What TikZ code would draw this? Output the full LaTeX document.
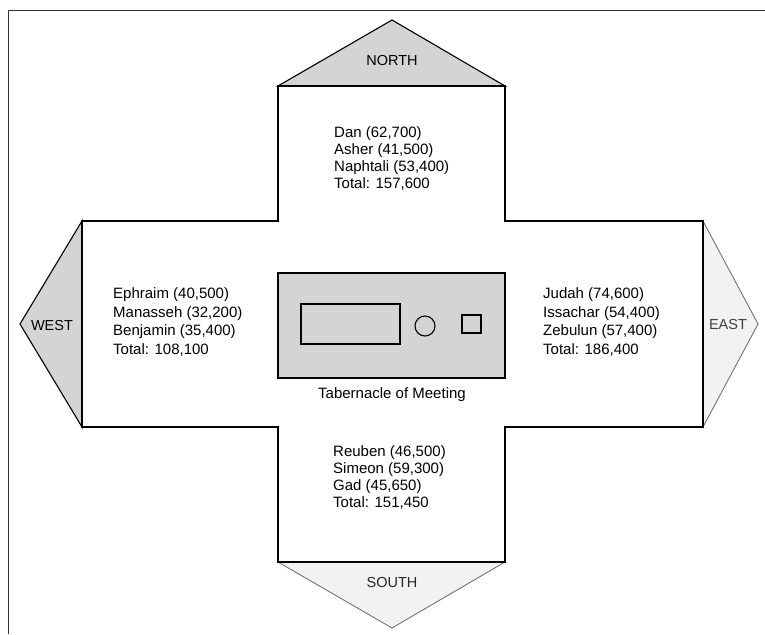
\documentclass[tikz,border=0pt]{standalone}
\usepackage{fontspec}
\setmainfont{Liberation Sans}
\begin{document}
\begin{tikzpicture}[x=1pt,y=-1pt,
  outline/.style={draw=black,line width=1.1pt,line join=miter},
  dirfill/.style={outline,fill=black!17},
  fadefill/.style={draw=black!55,line width=0.9pt,fill=black!5},
  dirlabel/.style={font=\fontsize{14.5}{16}\selectfont,inner sep=0pt},
  tribe/.style={font=\fontsize{15}{17}\selectfont,align=left,anchor=west,inner sep=0pt},
  tribewide/.style={tribe,font=\fontsize{15}{18.5}\selectfont}]
\useasboundingbox (0,0) rectangle (765,634);
% frame
\draw[black!80,line width=0.9pt] (8,634) -- (8,10) -- (765,10);
% direction triangles
\draw[dirfill] (278,86) -- (392,20) -- (505,86) -- cycle;
\draw[dirfill] (82,221) -- (20,324) -- (82,427) -- cycle;
\draw[fadefill] (703,221) -- (758,324) -- (703,427);
\draw[fadefill] (278,562) -- (392,628) -- (505,562);
% cross
\draw[outline,fill=white] (278,86) -- (505,86) -- (505,221) -- (703,221) -- (703,427) -- (505,427)
  -- (505,562) -- (278,562) -- (278,427) -- (82,427) -- (82,221) -- (278,221) -- cycle;
% tabernacle
\draw[outline,fill=black!17] (278,273) rectangle (505,378);
\draw[outline] (301,304) rectangle (400,344);
\draw[outline] (425,326) circle (10);
\draw[outline] (462,315) rectangle (481,333);
% labels
\node[dirlabel] (north) at (392,61) {NORTH};
\node[dirlabel] (west) at (52,326) {WEST};
\node[dirlabel,text=black!75] (east) at (728,325) {EAST};
\node[dirlabel,text=black!85] (south) at (392,583) {SOUTH};
\node[tribe] (n) at (334,159) {Dan (62,700)\\Asher (41,500)\\Naphtali (53,400)\\Total: 157,600};
\node[tribewide] (w) at (113,322) {Ephraim (40,500)\\Manasseh (32,200)\\Benjamin (35,400)\\Total: 108,100};
\node[tribewide] (e) at (543,322) {Judah (74,600)\\Issachar (54,400)\\Zebulun (57,400)\\Total: 186,400};
\node[tribe] (s) at (333,478) {Reuben (46,500)\\Simeon (59,300)\\Gad (45,650)\\Total: 151,450};
\node[font=\fontsize{15}{17}\selectfont,inner sep=0pt] (tab) at (392,395) {Tabernacle of Meeting};
\end{tikzpicture}
\end{document}
